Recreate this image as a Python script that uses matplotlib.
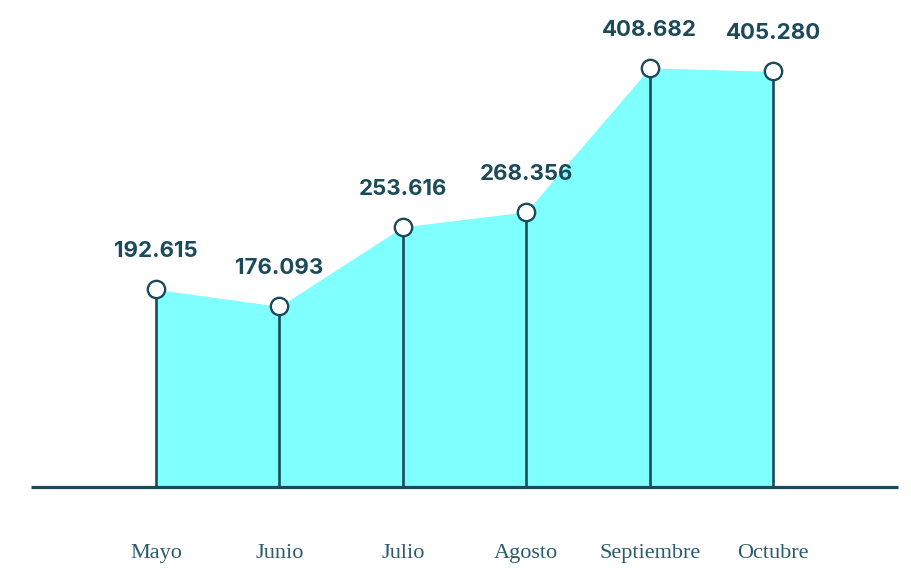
import matplotlib
matplotlib.use("Agg")
import matplotlib.pyplot as plt
import numpy as np

months = ["Mayo", "Junio", "Julio", "Agosto", "Septiembre", "Octubre"]
values = [192615, 176093, 253616, 268356, 408682, 405280]
labels = ["192.615", "176.093", "253.616", "268.356", "408.682", "405.280"]

dark = "#1b4a5a"
fill_c = "#80ffff"
month_c = "#2c5b6b"

fig = plt.figure(figsize=(9.12, 5.68), dpi=100)
ax = fig.add_axes([0, 0, 1, 1])
ax.set_axis_off()

x = np.arange(len(months))
ax.set_xlim(-1.264, 6.126)
ax.set_ylim(-78980, 474850)

ax.fill_between(x, 0, values, color=fill_c, lw=0, zorder=1)
ax.vlines(x, 0, values, color=dark, lw=1.9, zorder=2)
ax.plot([-1.013, 6.013], [0, 0], color=dark, lw=2.3, solid_capstyle="butt", zorder=3)
ax.plot(x, values, ls="none", marker="o", ms=12.5, mfc="white", mec=dark, mew=1.7, zorder=4)

for xi, v, lab in zip(x, values, labels):
    ax.annotate(lab, (xi, v), xytext=(0, 27.5), textcoords="offset points",
                ha="center", va="center", fontsize=16, fontweight="bold",
                family="Inter", color=dark)

for xi, m in zip(x, months):
    ax.text(xi, -65000, m, ha="center", va="center", fontsize=16,
            family="Liberation Serif", color=month_c)

fig.savefig("out.png", dpi=100)
